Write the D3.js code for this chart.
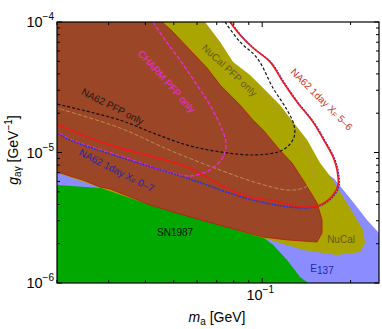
<!DOCTYPE html>
<html>
<head>
<meta charset="utf-8">
<script src="https://cdn.jsdelivr.net/npm/d3@7"></script>
<style>
body { margin: 0; background: #fff; }
svg text { font-family: "Liberation Sans", Arial, sans-serif; }
</style>
</head>
<body>
<div id="chart"></div>
<script>
// Excluded regions, points are [m_a (GeV), g (1/GeV)]
var e137 = [[0.018, 8.0e-6], [0.150, 8.0e-6], [0.176, 6.3e-6], [0.2040, 4.18e-6], [0.2276, 3.04e-6],
            [0.26, 2.2e-6], [0.26, 0.9e-6], [0.018, 0.9e-6]];
var sn1987 = [[0.018, 5.7e-6], [0.0200, 5.64e-6], [0.0280, 5.35e-6], [0.0303, 5.44e-6], [0.0415, 4.10e-6],
              [0.0538, 3.44e-6], [0.0777, 2.73e-6], [0.0983, 2.33e-6], [0.1089, 1.96e-6], [0.1215, 1.50e-6],
              [0.1346, 1.11e-6], [0.1433, 1.00e-6], [0.145, 0.9e-6], [0.018, 0.9e-6]];
var nucal = [[0.018, 1.1e-4], [0.0625, 1.1e-4], [0.0639, 1.00e-4], [0.0719, 7.03e-5], [0.0796, 4.94e-5],
             [0.0909, 3.93e-5], [0.1039, 2.91e-5], [0.1150, 2.31e-5], [0.1274, 1.71e-5], [0.1422, 1.25e-5],
             [0.1575, 8.31e-6], [0.1743, 6.15e-6], [0.1886, 4.56e-6], [0.2040, 3.44e-6], [0.2206, 2.55e-6],
             [0.2241, 2.03e-6], [0.2155, 1.73e-6], [0.1799, 1.64e-6], [0.1378, 1.79e-6], [0.1064, 2.14e-6],
             [0.0777, 2.64e-6], [0.0415, 3.96e-6], [0.018, 7.6e-6]];
var charm = [[0.018, 1.1e-4], [0.0445, 1.1e-4], [0.0456, 1.00e-4], [0.0497, 8.38e-5], [0.0568, 6.10e-5],
             [0.0649, 4.44e-5], [0.0719, 3.29e-5], [0.0841, 2.31e-5], [0.0931, 1.77e-5], [0.1007, 1.49e-5],
             [0.1150, 1.04e-5], [0.1264, 8.31e-6], [0.1378, 6.15e-6], [0.1538, 4.10e-6], [0.1599, 3.04e-6],
             [0.1599, 2.42e-6], [0.1538, 2.06e-6], [0.1215, 2.14e-6], [0.1007, 2.25e-6], [0.0777, 2.64e-6],
             [0.0538, 3.32e-6], [0.0415, 3.96e-6], [0.0303, 5.25e-6], [0.0280, 5.44e-6], [0.0245, 6.15e-6],
             [0.0200, 7.09e-6], [0.018, 7.6e-6]];

// Contours
var nucalPfp = [[0.0629, 1.00e-4], [0.0691, 7.03e-5], [0.0765, 4.94e-5], [0.0874, 3.72e-5], [0.0999, 2.91e-5],
                [0.1132, 2.19e-5], [0.1274, 1.62e-5], [0.1378, 1.14e-5], [0.1467, 8.31e-6], [0.1479, 6.61e-6],
                [0.1433, 5.64e-6], [0.1346, 5.25e-6], [0.1215, 5.16e-6], [0.0961, 5.84e-6], [0.0719, 7.34e-6],
                [0.0485, 1.04e-5], [0.0328, 1.54e-5], [0.0200, 2.19e-5]];
var na62Pfp = [[0.0747, 1.00e-4], [0.0841, 7.03e-5], [0.0961, 5.30e-5], [0.1089, 3.12e-5], [0.1215, 2.12e-5],
               [0.1284, 1.62e-5], [0.1284, 1.31e-5], [0.1225, 1.12e-5], [0.1132, 1.01e-5], [0.0931, 9.57e-6],
               [0.0719, 1.01e-5], [0.0555, 1.14e-5], [0.0425, 1.41e-5], [0.0328, 1.77e-5], [0.0200, 2.35e-5]];
var charmPfp = [[0.0425, 1.00e-4], [0.0467, 7.28e-5], [0.0525, 5.11e-5], [0.0600, 3.29e-5], [0.0664, 2.31e-5],
                [0.0719, 1.62e-5], [0.0753, 1.18e-5], [0.0736, 9.24e-6], [0.0680, 7.60e-6], [0.0614, 6.84e-6],
                [0.0555, 6.61e-6], [0.0328, 9.40e-6], [0.0221, 1.27e-5], [0.0200, 1.44e-5]];
var na62x56 = [[0.0777, 1.00e-4], [0.0841, 7.95e-5], [0.0931, 6.32e-5], [0.1064, 4.94e-5], [0.1178, 3.47e-5],
               [0.1314, 2.44e-5], [0.1490, 1.71e-5], [0.1637, 1.20e-5], [0.1743, 9.24e-6], [0.1799, 7.34e-6],
               [0.1813, 5.64e-6], [0.1743, 4.72e-6], [0.1575, 3.96e-6], [0.1378, 3.82e-6], [0.1064, 4.33e-6],
               [0.0909, 4.56e-6], [0.0777, 5.16e-6], [0.0555, 7.74e-6], [0.0415, 9.40e-6], [0.0328, 1.08e-5],
               [0.0265, 1.27e-5], [0.0200, 1.65e-5]];
var na62x07Low = [[0.0200, 1.41e-5], [0.0221, 1.25e-5], [0.0328, 9.24e-6], [0.0555, 6.38e-6], [0.0777, 4.89e-6],
                  [0.0931, 4.33e-6], [0.1274, 3.82e-6], [0.1456, 3.82e-6], [0.1599, 4.03e-6]];

var xTickValues = [0.1];
var yTickValues = [1e-6, 1e-5, 1e-4];

var w = 382, h = 329;
var margin = { top: 22, right: 3, bottom: 46, left: 57 };
var iw = w - margin.left - margin.right;
var ih = h - margin.top - margin.bottom;

var xScale = d3.scaleLog().domain([0.02, 0.25]).range([0, iw]);
var yScale = d3.scaleLog().domain([1e-6, 1e-4]).range([ih, 0]);

var svg = d3.select("#chart").append("svg").attr("width", w).attr("height", h);
var g = svg.append("g").attr("transform", `translate(${margin.left},${margin.top})`);

g.append("clipPath").attr("id", "plot-clip")
 .append("rect").attr("width", iw).attr("height", ih);
var plot = g.append("g").attr("clip-path", "url(#plot-clip)");

var poly = d3.line().x(d => xScale(d[0])).y(d => yScale(d[1]));
var smooth = d3.line().x(d => xScale(d[0])).y(d => yScale(d[1])).curve(d3.curveCatmullRom.alpha(0.5));

// Filled regions, back to front
plot.append("path").attr("d", poly(e137) + "Z").attr("fill", "#8a8cff");
plot.append("path").attr("d", poly(sn1987) + "Z").attr("fill", "#00a800");
plot.append("path").attr("d", poly(nucal) + "Z").attr("fill", "#aba500");
plot.append("path").attr("d", poly(charm) + "Z")
    .attr("fill", "#9c4628").attr("stroke", "#b8160f").attr("stroke-width", 0.8);

// Contour lines
plot.append("path").attr("d", smooth(nucalPfp)).attr("fill", "none")
    .attr("stroke", "#b88c55").attr("stroke-width", 1).attr("stroke-dasharray", "4,2");
plot.append("path").attr("d", smooth(na62Pfp)).attr("fill", "none")
    .attr("stroke", "#111").attr("stroke-width", 1.2).attr("stroke-dasharray", "3,2");
plot.append("path").attr("d", smooth(charmPfp)).attr("fill", "none")
    .attr("stroke", "#f028e0").attr("stroke-width", 1.3).attr("stroke-dasharray", "4,2");

// X_F 0-7 follows the 5-6 contour on its upper part
var na62x07 = na62x07Low.concat(na62x56.slice(0, 12).reverse());
plot.append("path").attr("d", smooth(na62x07)).attr("fill", "none")
    .attr("transform", "translate(1,0.5)")
    .attr("stroke", "#2430e8").attr("stroke-width", 1.4).attr("stroke-dasharray", "2,1");
plot.append("path").attr("d", smooth(na62x56)).attr("fill", "none")
    .attr("stroke", "#f01818").attr("stroke-width", 1.6);

// Labels inside the plot
function note(parts, m, c, angle, color) {
    var t = plot.append("text")
        .attr("transform", `translate(${xScale(m)},${yScale(c)}) rotate(${angle})`)
        .attr("text-anchor", "middle")
        .attr("dominant-baseline", "central")
        .style("font-size", "10px")
        .attr("fill", color);
    parts.forEach(function(p) {
        var s = t.append("tspan").text(p.t);
        if (p.dy) s.attr("dy", p.dy);
        if (p.size) s.style("font-size", p.size);
    });
}
note([{ t: "CHARM PFP only" }], 0.0474, 3.53e-5, 48, "#f028e0");
note([{ t: "NuCal PFP only" }], 0.0777, 4.29e-5, 43, "#685a1c");
note([{ t: "NA62 1day X" }, { t: "F", dy: 2, size: "7px" }, { t: " 5\u20136", dy: -2 }], 0.1599, 2.57e-5, 45, "#c8302c");
note([{ t: "NA62 PFP only" }], 0.0310, 2.27e-5, 27, "#1a1a1a");
note([{ t: "NA62 1day X" }, { t: "F", dy: 2, size: "7px" }, { t: " 0\u20137", dy: -2 }], 0.0320, 7.34e-6, 27, "#2226a8");
note([{ t: "SN1987" }], 0.0505, 2.46e-6, 0, "#111");
note([{ t: "NuCal" }], 0.1856, 2.17e-6, 0, "#685a1c");
note([{ t: "E" }, { t: "137", dy: 2 }], 0.1599, 1.30e-6, 0, "#2226b0");

// Frame and ticks on all four sides
g.append("rect").attr("width", iw).attr("height", ih)
 .attr("fill", "none").attr("stroke", "#000").attr("stroke-width", 1.2);

function isMajor(v) {
    var e = Math.log10(v);
    return Math.abs(e - Math.round(e)) < 1e-6;
}
xScale.ticks().forEach(function(v) {
    var x = xScale(v), len = isMajor(v) ? 5 : 3;
    g.append("line").attr("x1", x).attr("x2", x).attr("y1", ih).attr("y2", ih - len).attr("stroke", "#000");
    g.append("line").attr("x1", x).attr("x2", x).attr("y1", 0).attr("y2", len).attr("stroke", "#000");
});
yScale.ticks().forEach(function(v) {
    var y = yScale(v), len = isMajor(v) ? 5 : 3;
    g.append("line").attr("x1", 0).attr("x2", len).attr("y1", y).attr("y2", y).attr("stroke", "#000");
    g.append("line").attr("x1", iw).attr("x2", iw - len).attr("y1", y).attr("y2", y).attr("stroke", "#000");
});

// Tick labels 10^n
function powerLabel(t, v) {
    var e = Math.round(Math.log10(v));
    t.append("tspan").text("10");
    t.append("tspan").attr("dy", -7).style("font-size", "10px").text("\u2212" + Math.abs(e));
}
xTickValues.forEach(function(v) {
    var t = g.append("text").attr("x", xScale(v) - 2).attr("y", ih + 17)
        .attr("text-anchor", "middle").style("font-size", "14.5px");
    powerLabel(t, v);
});
yTickValues.forEach(function(v) {
    var t = g.append("text").attr("x", -3).attr("y", yScale(v) + 5)
        .attr("text-anchor", "end").style("font-size", "14.5px");
    powerLabel(t, v);
});

// Axis titles
var xt = svg.append("text").attr("x", 217).attr("y", 322)
    .attr("text-anchor", "middle").style("font-size", "14px");
xt.append("tspan").style("font-style", "italic").text("m");
xt.append("tspan").attr("dy", 3).style("font-size", "10px").text("a");
xt.append("tspan").attr("dy", -3).text(" [GeV]");

var yt = svg.append("text").attr("transform", "translate(18,150) rotate(-90)")
    .attr("text-anchor", "middle").style("font-size", "14px");
yt.append("tspan").style("font-style", "italic").text("g");
yt.append("tspan").attr("dy", 3).style("font-size", "10px").text("a\u03b3");
yt.append("tspan").attr("dy", -3).text(" [GeV");
yt.append("tspan").attr("dy", -6).style("font-size", "10px").text("\u22121");
yt.append("tspan").attr("dy", 6).text("]");
</script>
</body>
</html>
